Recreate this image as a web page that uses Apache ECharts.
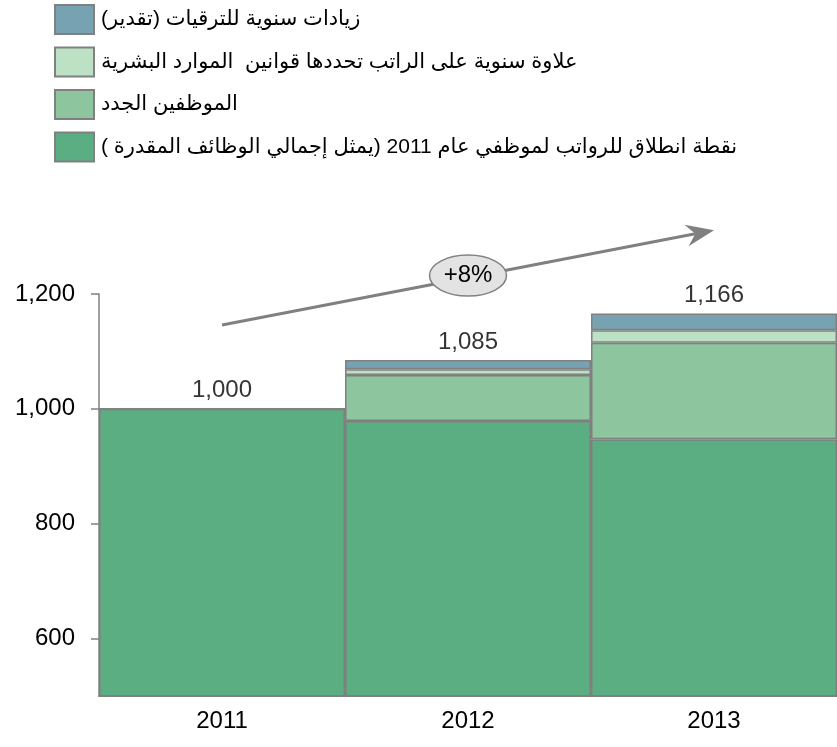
<!DOCTYPE html>
<html>
<head>
<meta charset="utf-8">
<script src="https://cdn.jsdelivr.net/npm/echarts@6/dist/echarts.min.js"></script>
<style>
html,body{margin:0;padding:0;background:#fff;}
#c{width:837px;height:747px;}
</style>
</head>
<body>
<div id="c"></div>
<script>
// ---- data ----
const categories = ['2011', '2012', '2013'];
const seriesNames = [
  'نقطة انطلاق للرواتب لموظفي عام 2011 (يمثل إجمالي الوظائف المقدرة )',
  'الموظفين الجدد',
  'علاوة سنوية على الراتب تحددها قوانين  الموارد البشرية',
  'زيادات سنوية للترقيات (تقدير)'
];
const baseValues = [1000, 979, 947];
const newHireValues = [0, 80, 168];
const raiseValues = [0, 10, 22];
const promoValues = [0, 16, 29];
const totals = [1000, 1085, 1166];
const yTicks = [600, 800, 1000, 1200];
const growthLabel = '+8%';
// annotation anchors in data space
const arrowStart = ['2011', 1146];
const arrowEnd = ['2013', 1311];
const bubbleAt = ['2012', 1232];

const colors = ['#5bad82', '#8dc59f', '#bde1c5', '#77a2b2'];
const gray = '#808080';
const FONT = "'Liberation Sans', Arial, 'DejaVu Sans', sans-serif";
const RLM = '\u200F';

const chart = echarts.init(document.getElementById('c'), null, {renderer: 'canvas'});

const valuesList = [baseValues, newHireValues, raiseValues, promoValues];
const barSeries = valuesList.map((vals, i) => ({
  name: seriesNames[i],
  type: 'bar',
  stack: 'total',
  data: vals,
  barCategoryGap: 0,
  barGap: 0,
  itemStyle: {color: colors[i], borderColor: gray, borderWidth: 1.5},
  emphasis: {disabled: true},
  animation: false
}));

const option = {
  animation: false,
  textStyle: {fontFamily: FONT},
  legend: {
    orient: 'vertical',
    left: 54,
    top: 4,
    padding: 0,
    itemWidth: 39,
    itemHeight: 29,
    itemGap: 11.5,
    icon: 'rect',
    selectedMode: false,
    data: [seriesNames[3], seriesNames[2], seriesNames[1], seriesNames[0]],
    itemStyle: {borderColor: gray, borderWidth: 2},
    formatter: name => RLM + name + RLM,
    textStyle: {fontFamily: FONT, fontSize: 21, color: '#000', padding: [0, 0, 0, 2]}
  },
  grid: {left: 99, right: -3, top: 294, bottom: 51, containLabel: false},
  xAxis: {
    type: 'category',
    data: categories,
    boundaryGap: true,
    axisLine: {lineStyle: {color: gray, width: 2}},
    axisTick: {length: 10, lineStyle: {color: gray, width: 1.5}},
    axisLabel: {fontSize: 24, color: '#000', margin: 13, fontFamily: FONT},
    z: 10
  },
  yAxis: {
    type: 'value',
    min: 500,
    max: 1200,
    splitLine: {show: false},
    axisLine: {show: true, lineStyle: {color: gray, width: 1.5}},
    axisTick: {show: true, length: 8, customValues: yTicks, lineStyle: {color: gray, width: 1.5}},
    axisLabel: {
      customValues: yTicks,
      fontSize: 24, color: '#000', margin: 24, fontFamily: FONT,
      formatter: v => Number(v).toLocaleString('en-US')
    }
  },
  series: barSeries.concat([{
    name: 'totals',
    type: 'scatter',
    data: totals,
    symbolSize: 0,
    silent: true,
    label: {
      show: true,
      position: 'top',
      distance: 6,
      fontSize: 24,
      color: '#000',
      fontFamily: FONT,
      formatter: p => Number(p.value).toLocaleString('en-US')
    },
    z: 20
  }])
};

chart.setOption(option);

// ---- annotation (arrow + bubble) placed through the axes ----
const p0 = chart.convertToPixel({gridIndex: 0}, arrowStart);
const p1 = chart.convertToPixel({gridIndex: 0}, arrowEnd);
const pb = chart.convertToPixel({gridIndex: 0}, bubbleAt);
const dx = p1[0] - p0[0], dy = p1[1] - p0[1];
const len = Math.sqrt(dx * dx + dy * dy);
const ux = dx / len, uy = dy / len;
const nx = -uy, ny = ux;
const headLen = 28, headHalf = 11, notch = 9;
const back = [p1[0] - ux * headLen, p1[1] - uy * headLen];
const headPts = [
  p1,
  [back[0] + nx * headHalf, back[1] + ny * headHalf],
  [p1[0] - ux * (headLen - notch), p1[1] - uy * (headLen - notch)],
  [back[0] - nx * headHalf, back[1] - ny * headHalf]
];
const lineEnd = [p1[0] - ux * (headLen - notch), p1[1] - uy * (headLen - notch)];

chart.setOption({
  graphic: [
    {type: 'line', shape: {x1: p0[0], y1: p0[1], x2: lineEnd[0], y2: lineEnd[1]},
     style: {stroke: gray, lineWidth: 3}, z: 50, silent: true},
    {type: 'polygon', shape: {points: headPts}, style: {fill: gray}, z: 50, silent: true},
    {type: 'ellipse', shape: {cx: pb[0], cy: pb[1], rx: 38.5, ry: 20.5},
     style: {fill: '#e3e3e3', stroke: gray, lineWidth: 1.5}, z: 51, silent: true},
    {type: 'text', x: pb[0], y: pb[1],
     style: {text: growthLabel, fontSize: 24, fontFamily: FONT, fill: '#000', align: 'center', verticalAlign: 'middle'},
     z: 52, silent: true}
  ]
});
</script>
</body>
</html>
